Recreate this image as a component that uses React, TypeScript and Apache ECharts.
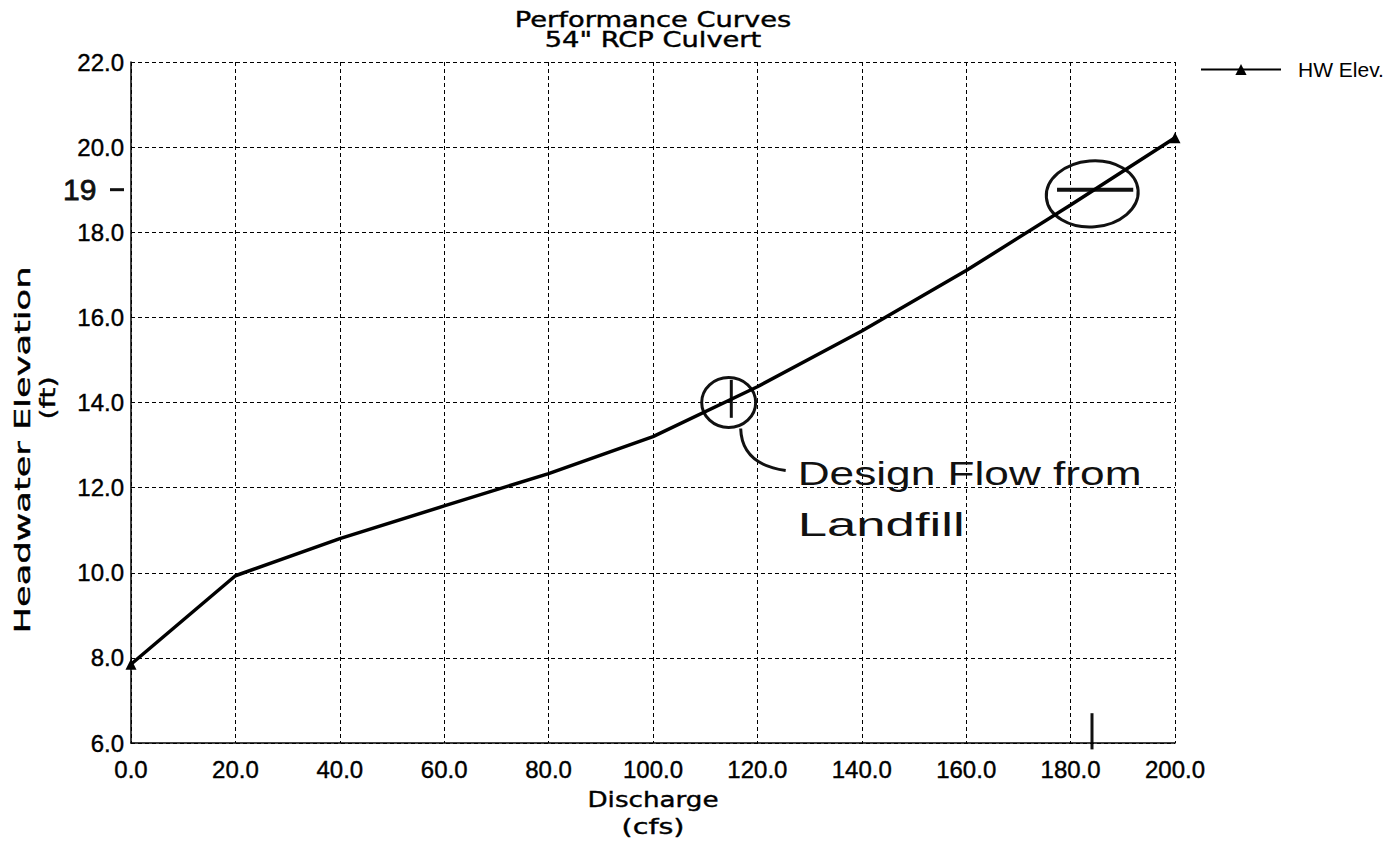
import React, { useEffect, useRef } from "react";
import * as echarts from "echarts";

// ---- data ----
const discharge = [0, 20, 40, 60, 80, 100, 120, 140, 160, 180, 200];
const hwElev = [7.85, 9.93, 10.8, 11.57, 12.33, 13.2, 14.37, 15.68, 17.1, 18.64, 20.22];
const seriesName = "HW Elev.";
const titleLines = ["Performance Curves", '54" RCP Culvert'];
const xName = ["Discharge", "(cfs)"];
const yName = ["Headwater Elevation", "(ft)"];
const xRange = { min: 0, max: 200, interval: 20 };
const yRange = { min: 6, max: 22, interval: 2 };
// handwritten notes (data coords)
const designFlow = { x: 114.5, y: 14.0 };
const markedFlow = { x: 184.1, y: 18.9 };
const markedLevel = 19;
const noteLines = ["Design Flow from", "Landfill"];

const FONT = "Liberation Sans";
const TFONT = "DejaVu Sans";

export default function App() {
  const ref = useRef<HTMLDivElement>(null);
  useEffect(() => {
    const chart = echarts.init(ref.current!, null, { renderer: "svg" });
    const last = discharge.length - 1;
    chart.setOption({
      animation: false,
      backgroundColor: "#fff",
      grid: { left: 131, right: 225, top: 62, bottom: 100 },
      legend: {
        data: [seriesName],
        left: 1195,
        top: 54,
        itemWidth: 80,
        itemHeight: 14,
        textStyle: { color: "#000", fontFamily: FONT, fontSize: 21, padding: [0, 0, 0, 12] },
      },
      xAxis: {
        type: "value",
        min: xRange.min,
        max: xRange.max,
        interval: xRange.interval,
        axisLine: { show: true, onZero: false, lineStyle: { color: "#000", width: 1.5 } },
        axisTick: { show: false },
        axisLabel: {
          color: "#000",
          fontFamily: FONT,
          fontSize: 24,
          margin: 14,
          textBorderColor: "#000",
          textBorderWidth: 0.4,
          formatter: (v: number) => v.toFixed(1),
        },
        splitLine: { show: true, lineStyle: { color: "#000", width: 1, type: [4, 3] } },
      },
      yAxis: {
        type: "value",
        min: yRange.min,
        max: yRange.max,
        interval: yRange.interval,
        axisLine: { show: true, lineStyle: { color: "#000", width: 1.5 } },
        axisTick: { show: false },
        axisLabel: {
          color: "#000",
          fontFamily: FONT,
          fontSize: 24,
          margin: 7,
          textBorderColor: "#000",
          textBorderWidth: 0.4,
          formatter: (v: number) => v.toFixed(1),
        },
        splitLine: { show: true, lineStyle: { color: "#000", width: 1, type: [4, 3] } },
      },
      series: [
        {
          name: seriesName,
          type: "line",
          symbol: "triangle",
          symbolSize: 11,
          showSymbol: true,
          clip: false,
          lineStyle: { color: "#000", width: 3.5 },
          itemStyle: { color: "#000" },
          data: discharge.map((x, i) => ({
            value: [x, hwElev[i]],
            symbol: i === 0 || i === last ? "triangle" : "none",
          })),
        },
      ],
    });

    const P = (x: number, y: number) => chart.convertToPixel({ gridIndex: 0 }, [x, y]) as number[];
    const ink = { stroke: "#111", lineWidth: 3, fill: "none" };
    const c1 = P(designFlow.x, designFlow.y);
    const c2 = P(markedFlow.x, markedFlow.y);
    const l19a = P(0, markedLevel);
    const h1 = P(177.4, markedLevel);
    const h2 = P(192, markedLevel);
    const tickTop = P(markedFlow.x, 6.7);
    const tickBot = P(markedFlow.x, 5.85);
    const v1 = P(115, 14.53);
    const v2 = P(115, 13.64);
    const plotCx = (P(xRange.min, 0)[0] + P(xRange.max, 0)[0]) / 2;
    const txt = (s: string, size: number) => ({
      text: s,
      fontFamily: TFONT,
      fontSize: size,
      fill: "#000",
      stroke: "#000",
      lineWidth: 0.4,
      align: "center",
      verticalAlign: "middle",
    });

    chart.setOption({
      graphic: [
        // titles
        { type: "text", x: plotCx, y: 20, scaleX: 1.3, style: txt(titleLines[0], 21) },
        { type: "text", x: plotCx, y: 40, scaleX: 1.3, style: txt(titleLines[1], 21) },
        // axis names
        { type: "text", x: plotCx, y: 800, scaleX: 1.19, style: txt(xName[0], 22) },
        { type: "text", x: plotCx, y: 826, scaleX: 1.3, style: txt(xName[1], 22) },
        { type: "text", x: 23, y: 450, rotation: Math.PI / 2, scaleX: 1.6, style: txt(yName[0], 22) },
        { type: "text", x: 47, y: 398, rotation: Math.PI / 2, scaleX: 1.3, style: txt(yName[1], 22) },
        // handwritten notes
        { type: "ellipse", shape: { cx: c1[0], cy: c1[1], rx: 27, ry: 25 }, style: ink },
        { type: "line", shape: { x1: v1[0], y1: v1[1], x2: v2[0], y2: v2[1] }, style: ink },
        {
          type: "bezierCurve",
          shape: { x1: c1[0] + 12, y1: c1[1] + 26, cpx1: c1[0] + 13, cpy1: c1[1] + 62, x2: c1[0] + 57, y2: c1[1] + 68 },
          style: ink,
        },
        {
          type: "text",
          x: c1[0] + 69,
          y: c1[1] + 70,
          scaleX: 1.3,
          style: { text: noteLines[0], fontFamily: FONT, fontSize: 34, fill: "#111", align: "left", verticalAlign: "middle" },
        },
        {
          type: "text",
          x: c1[0] + 69,
          y: c1[1] + 122,
          scaleX: 1.55,
          style: { text: noteLines[1], fontFamily: FONT, fontSize: 34, fill: "#111", align: "left", verticalAlign: "middle" },
        },
        { type: "ellipse", rotation: 0.08, originX: c2[0], originY: c2[1], shape: { cx: c2[0], cy: c2[1], rx: 46, ry: 33 }, style: ink },
        { type: "line", shape: { x1: h1[0], y1: h1[1], x2: h2[0], y2: h2[1] }, style: { ...ink, lineWidth: 4 } },
        { type: "line", shape: { x1: tickTop[0], y1: tickTop[1], x2: tickBot[0], y2: tickBot[1] }, style: ink },
        {
          type: "text",
          x: l19a[0] - 68,
          y: l19a[1],
          style: { text: String(markedLevel), fontFamily: FONT, fontSize: 30, fill: "#111", stroke: "#111", lineWidth: 0.8, align: "left", verticalAlign: "middle" },
        },
        { type: "line", shape: { x1: l19a[0] - 21, y1: l19a[1], x2: l19a[0] - 7, y2: l19a[1] }, style: ink },
      ],
    });
    return () => chart.dispose();
  }, []);
  return (
    <div
      ref={ref}
      style={{ position: "fixed", left: 0, top: 0, width: 1400, height: 843, background: "#fff" }}
    />
  );
}
